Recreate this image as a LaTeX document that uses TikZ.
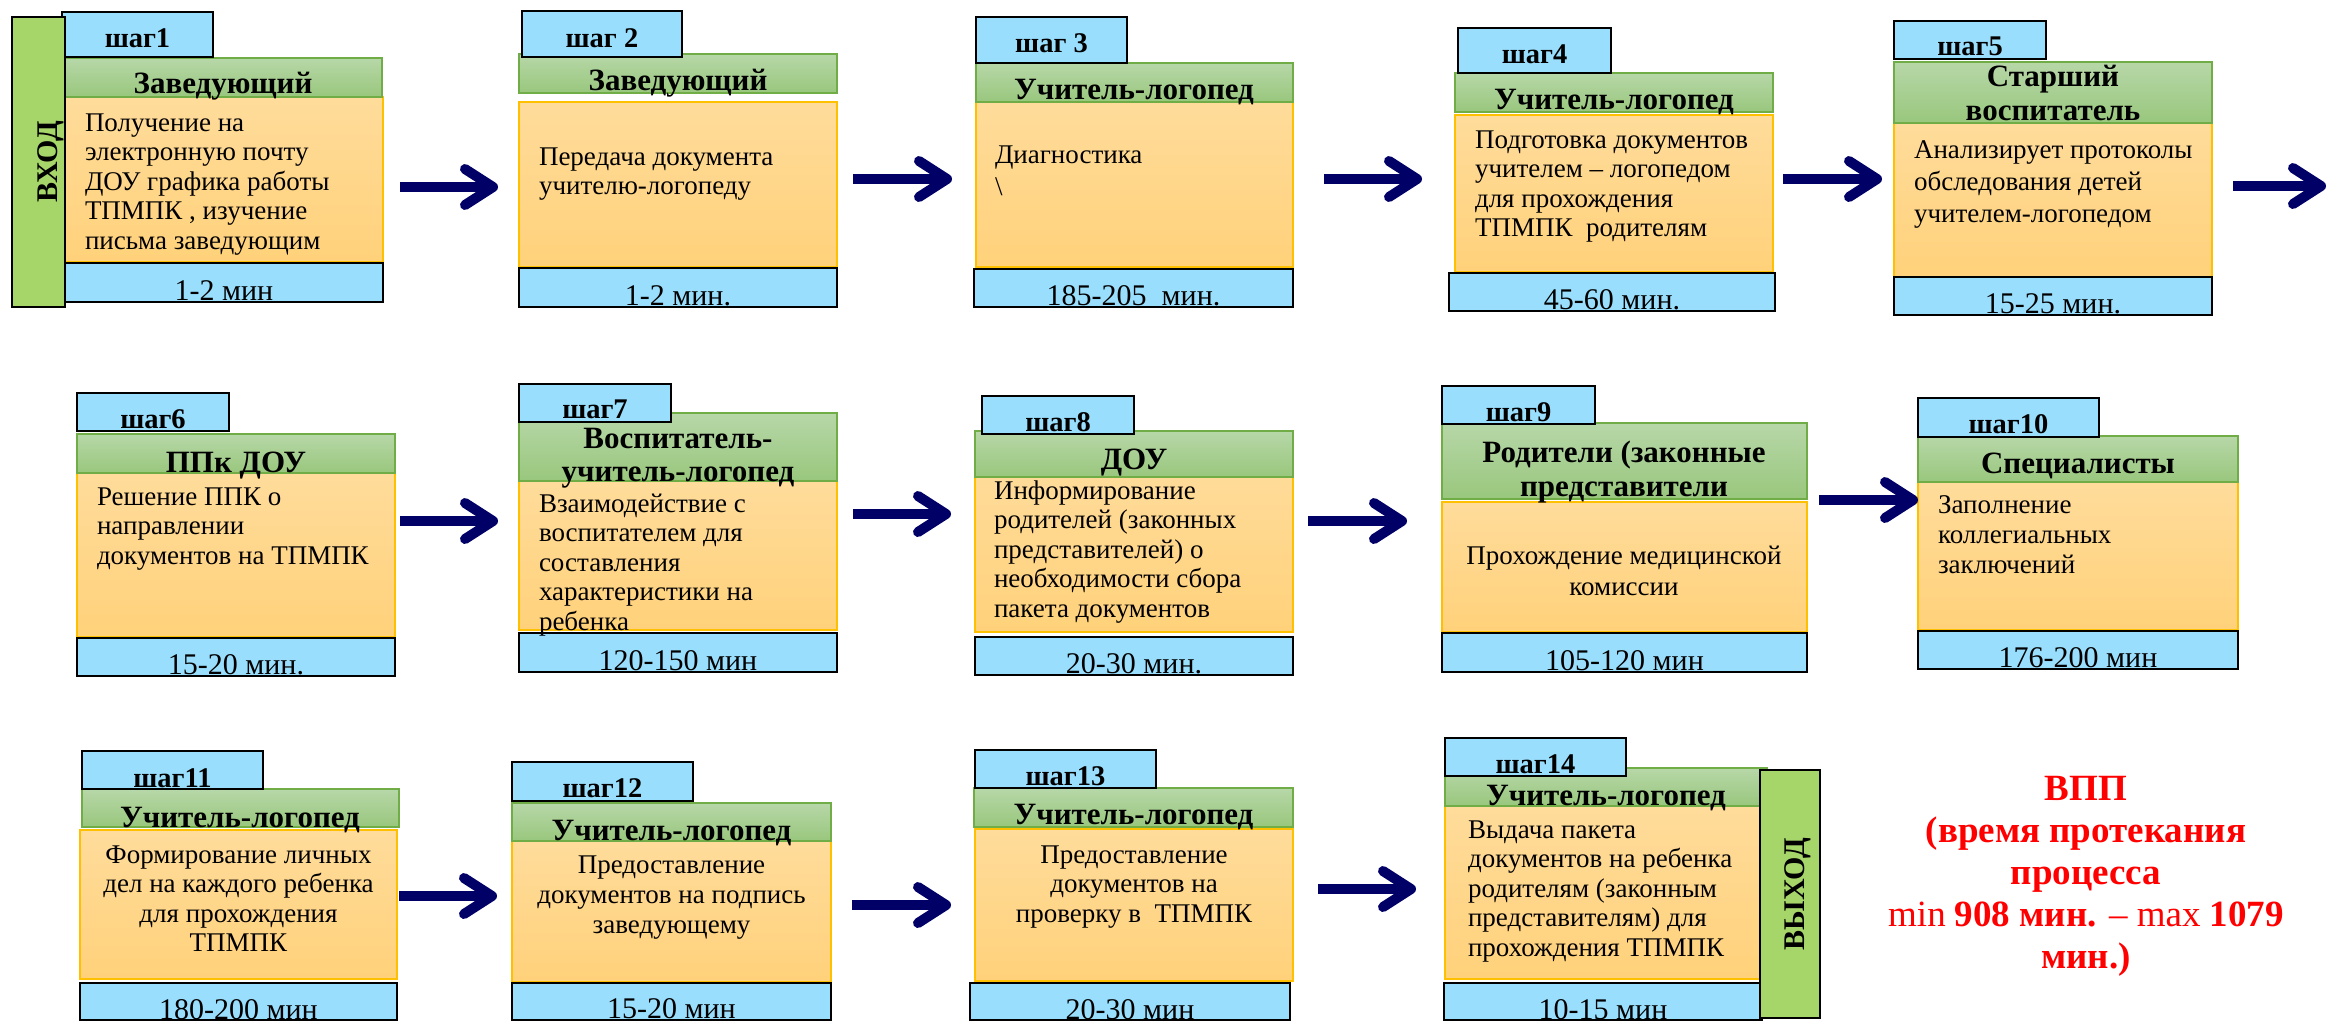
\documentclass[tikz,border=0pt]{standalone}
\usepackage{fontspec}
\setmainfont{Liberation Serif}
\usetikzlibrary{arrows.meta}
\definecolor{stepblue}{RGB}{153,222,253}
\definecolor{bargreen}{RGB}{166,213,106}
\definecolor{headtop}{RGB}{183,215,168}
\definecolor{headbot}{RGB}{153,199,125}
\definecolor{headborder}{RGB}{112,173,71}
\definecolor{bodytop}{RGB}{255,220,155}
\definecolor{bodybot}{RGB}{255,209,122}
\definecolor{bodyborder}{RGB}{255,192,0}
\definecolor{navyarrow}{RGB}{0,0,102}
\definecolor{vppred}{RGB}{255,0,0}
\newcommand\rbox[6]{\node[#2, minimum width={(#5)-(#3)}, minimum height={(#6)-(#4)}] (#1) at ({((#3)+(#5))/2},{((#4)+(#6))/2}) {};}
\newcommand\txtlines[2][l]{\begin{tabular}[t]{@{}#1@{}}#2\end{tabular}}
\tikzset{
  every node/.style={inner sep=0pt, outer sep=0pt},
  bodybox/.style={draw=bodyborder, line width=1.2pt, top color=bodytop, bottom color=bodybot},
  headbox/.style={draw=headborder, line width=1.2pt, top color=headtop, bottom color=headbot},
  bluebox/.style={draw=black, line width=2pt, fill=stepblue},
  barbox/.style={draw=black, line width=2pt, fill=bargreen},
  bodytext/.style={font=\fontsize{27}{29.5}\selectfont, anchor=base west},
  bodyctext/.style={font=\fontsize{27}{29.5}\selectfont, anchor=base},
  headtext/.style={font=\fontsize{31}{34}\selectfont\bfseries, anchor=base},
  labtext/.style={font=\fontsize{28.5}{32}\selectfont\bfseries, anchor=base},
  timetext/.style={font=\fontsize{30}{34}\selectfont, anchor=base},
  bartext/.style={font=\fontsize{30}{34}\selectfont\bfseries, anchor=base, rotate=90},
  vpptext/.style={font=\fontsize{37}{42}\selectfont\bfseries, text=vppred, anchor=base},
  flow/.style={draw=navyarrow, line width=10pt, -{Straight Barb[length=28pt, width=36pt, round]}},
}
\begin{document}
\begin{tikzpicture}[x=1pt, y=-1pt]
\useasboundingbox (0,0) rectangle (2328,1021);
% ---------- row 1 ----------
\rbox{b1}{bodybox}{65}{97}{383}{262}
\rbox{h1}{headbox}{65}{58}{382}{97}
\rbox{l1}{bluebox}{62}{12}{213}{57}
\rbox{t1}{bluebox}{65}{263}{383}{302}
\rbox{vin}{barbox}{12}{17}{65}{307}
\node[bartext] (vint) at (57,162) {ВХОД};
\node[headtext] (h1t) at (223,93) {Заведующий};
\node[labtext] (l1t) at (137.5,47) {шаг1};
\node[timetext] (t1t) at (224,300) {1-2 мин};
\node[bodytext] (b1t) at (85,131) {\txtlines{Получение на\\электронную почту\\ДОУ графика работы\\ТПМПК , изучение\\письма заведующим}};

\rbox{b2}{bodybox}{519}{102}{837}{267}
\rbox{h2}{headbox}{519}{54}{837}{93}
\rbox{l2}{bluebox}{522}{11}{682}{57}
\rbox{t2}{bluebox}{519}{268}{837}{307}
\node[headtext] (h2t) at (678,90) {Заведующий};
\node[labtext] (l2t) at (602,47) {шаг 2};
\node[timetext] (t2t) at (678,305) {1-2 мин.};
\node[bodytext] (b2t) at (539,165) {\txtlines{Передача документа\\учителю-логопеду}};

\rbox{b3}{bodybox}{976}{102}{1293}{267}
\rbox{h3}{headbox}{976}{63}{1293}{102}
\rbox{l3}{bluebox}{976}{17}{1127}{63}
\rbox{t3}{bluebox}{974}{269}{1293}{307}
\node[headtext] (h3t) at (1134,99) {Учитель-логопед};
\node[labtext] (l3t) at (1051.5,52) {шаг 3};
\node[timetext] (t3t) at (1133.5,305) {185-205\ \ мин.};
\node[bodytext] (b3t) at (995,163) {\txtlines{Диагностика\\[3pt]\textbackslash}};

\rbox{b4}{bodybox}{1455}{115}{1773}{272}
\rbox{h4}{headbox}{1455}{73}{1773}{112}
\rbox{l4}{bluebox}{1458}{28}{1611}{73}
\rbox{t4}{bluebox}{1449}{273}{1775}{311}
\node[headtext] (h4t) at (1614,109) {Учитель-логопед};
\node[labtext] (l4t) at (1534.5,63) {шаг4};
\node[timetext] (t4t) at (1612,309) {45-60 мин.};
\node[bodytext] (b4t) at (1475,148) {\txtlines{Подготовка документов\\учителем – логопедом\\для прохождения\\ТПМПК\ \ родителям}};

\rbox{b5}{bodybox}{1894}{123}{2212}{277}
\rbox{h5}{headbox}{1894}{62}{2212}{123}
\rbox{l5}{bluebox}{1894}{21}{2046}{59}
\rbox{t5}{bluebox}{1894}{277}{2212}{315}
\node[headtext] (h5t) at (2053,86) {\txtlines[c]{Старший\\воспитатель}};
\node[labtext] (l5t) at (1970,55) {шаг5};
\node[timetext] (t5t) at (2053,313) {15-25 мин.};
\node[bodytext, font=\fontsize{27}{32}\selectfont] (b5t) at (1914,158) {\txtlines{Анализирует протоколы\\обследования детей\\учителем-логопедом}};

% ---------- row 2 ----------
\rbox{b6}{bodybox}{77}{473}{395}{637}
\rbox{h6}{headbox}{77}{434}{395}{473}
\rbox{l6}{bluebox}{77}{393}{229}{431}
\rbox{t6}{bluebox}{77}{638}{395}{676}
\node[headtext] (h6t) at (236,472) {ППк ДОУ};
\node[labtext] (l6t) at (153,428) {шаг6};
\node[timetext] (t6t) at (236,674) {15-20 мин.};
\node[bodytext] (b6t) at (97,505) {\txtlines{Решение ППК о\\направлении\\документов на ТПМПК}};

\rbox{b7}{bodybox}{519}{481}{837}{630}
\rbox{h7}{headbox}{519}{413}{837}{481}
\rbox{l7}{bluebox}{519}{384}{671}{422}
\rbox{t7}{bluebox}{519}{633}{837}{672}
\node[headtext, font=\fontsize{31}{33}\selectfont\bfseries] (h7t) at (678,448) {\txtlines[c]{Воспитатель-\\учитель-логопед}};
\node[labtext] (l7t) at (595,418) {шаг7};
\node[timetext] (t7t) at (678,670) {120-150 мин};
\node[bodytext] (b7t) at (539,512) {\txtlines{Взаимодействие с\\воспитателем для\\составления\\характеристики на\\ребенка}};

\rbox{b8}{bodybox}{975}{467}{1293}{632}
\rbox{h8}{headbox}{975}{431}{1293}{477}
\rbox{l8}{bluebox}{982}{396}{1134}{434}
\rbox{t8}{bluebox}{975}{637}{1293}{675}
\node[headtext] (h8t) at (1134,469) {ДОУ};
\node[labtext] (l8t) at (1058,431) {шаг8};
\node[timetext] (t8t) at (1134,673) {20-30 мин.};
\node[bodytext] (b8t) at (994,499) {\txtlines{Информирование\\родителей (законных\\представителей) о\\необходимости сбора\\пакета документов}};

\rbox{b9}{bodybox}{1442}{502}{1807}{632}
\rbox{h9}{headbox}{1442}{423}{1807}{499}
\rbox{l9}{bluebox}{1442}{386}{1595}{424}
\rbox{t9}{bluebox}{1442}{633}{1807}{672}
\node[headtext] (h9t) at (1624,462) {\txtlines[c]{Родители (законные\\представители}};
\node[labtext] (l9t) at (1518.5,421) {шаг9};
\node[timetext] (t9t) at (1624.5,670) {105-120 мин};
\node[bodyctext, font=\fontsize{27}{31}\selectfont] (b9t) at (1624,564) {\txtlines[c]{Прохождение медицинской\\комиссии}};

\rbox{b10}{bodybox}{1918}{482}{2238}{630}
\rbox{h10}{headbox}{1918}{436}{2238}{482}
\rbox{l10}{bluebox}{1918}{398}{2099}{437}
\rbox{t10}{bluebox}{1918}{631}{2238}{669}
\node[headtext] (h10t) at (2078,473) {Специалисты};
\node[labtext] (l10t) at (2008.5,433) {шаг10};
\node[timetext] (t10t) at (2078,667) {176-200 мин};
\node[bodytext, font=\fontsize{27}{30}\selectfont] (b10t) at (1938,513) {\txtlines{Заполнение\\коллегиальных\\заключений}};

% ---------- row 3 ----------
\rbox{b11}{bodybox}{80}{830}{397}{979}
\rbox{h11}{headbox}{82}{789}{399}{827}
\rbox{l11}{bluebox}{82}{751}{263}{789}
\rbox{t11}{bluebox}{80}{983}{397}{1020}
\node[headtext] (h11t) at (240,827) {Учитель-логопед};
\node[labtext] (l11t) at (172.5,787) {шаг11};
\node[timetext] (t11t) at (238.5,1019) {180-200 мин};
\node[bodyctext] (b11t) at (238.5,863) {\txtlines[c]{Формирование личных\\дел на каждого ребенка\\для прохождения\\ТПМПК}};

\rbox{b12}{bodybox}{512}{841}{831}{982}
\rbox{h12}{headbox}{512}{803}{831}{841}
\rbox{l12}{bluebox}{512}{762}{693}{801}
\rbox{t12}{bluebox}{512}{983}{831}{1020}
\node[headtext] (h12t) at (671.5,840) {Учитель-логопед};
\node[labtext] (l12t) at (602.5,797) {шаг12};
\node[timetext] (t12t) at (671.5,1018) {15-20 мин};
\node[bodyctext, font=\fontsize{27}{30}\selectfont] (b12t) at (671.5,873) {\txtlines[c]{Предоставление\\документов на подпись\\заведующему}};

\rbox{b13}{bodybox}{975}{829}{1293}{981}
\rbox{h13}{headbox}{974}{788}{1293}{827}
\rbox{l13}{bluebox}{975}{750}{1156}{788}
\rbox{t13}{bluebox}{970}{983}{1290}{1020}
\node[headtext] (h13t) at (1133.5,824) {Учитель-логопед};
\node[labtext] (l13t) at (1065.5,785) {шаг13};
\node[timetext] (t13t) at (1130,1019) {20-30 мин};
\node[bodyctext] (b13t) at (1134,863) {\txtlines[c]{Предоставление\\документов на\\проверку в\ \ ТПМПК}};

\rbox{b14}{bodybox}{1445}{806}{1760}{979}
\rbox{h14}{headbox}{1445}{768}{1767}{806}
\rbox{l14}{bluebox}{1445}{738}{1626}{776}
\rbox{t14}{bluebox}{1444}{983}{1762}{1020}
\rbox{vout}{barbox}{1760}{770}{1820}{1018}
\node[bartext] (voutt) at (1804,894) {ВЫХОД};
\node[headtext] (h14t) at (1606,805) {Учитель-логопед};
\node[labtext] (l14t) at (1535.5,773) {шаг14};
\node[timetext] (t14t) at (1603,1019) {10-15 мин};
\node[bodytext] (b14t) at (1468,838) {\txtlines{Выдача пакета\\документов на ребенка\\родителям (законным\\представителям) для\\прохождения ТПМПК}};

% ---------- summary ----------
\node[vpptext] (vpp) at (2086,800) {\txtlines[c]{ВПП\\(время протекания\\процесса\\{\mdseries min} 908 мин. {\mdseries – max} 1079\\мин.)}};

% ---------- arrows ----------
\coordinate (a1s) at (400,187);  \coordinate (a1e) at (498,187);
\coordinate (a2s) at (853,179);  \coordinate (a2e) at (952,179);
\coordinate (a3s) at (1324,179); \coordinate (a3e) at (1422,179);
\coordinate (a4s) at (1783,179); \coordinate (a4e) at (1882,179);
\coordinate (a5s) at (2233,186); \coordinate (a5e) at (2326,186);
\coordinate (a6s) at (400,521);  \coordinate (a6e) at (498,521);
\coordinate (a7s) at (853,514);  \coordinate (a7e) at (951,514);
\coordinate (a8s) at (1308,521); \coordinate (a8e) at (1407,521);
\coordinate (a9s) at (1819,500); \coordinate (a9e) at (1918,500);
\coordinate (a10s) at (399,896); \coordinate (a10e) at (497,896);
\coordinate (a11s) at (852,905); \coordinate (a11e) at (951,905);
\coordinate (a12s) at (1318,889); \coordinate (a12e) at (1416,889);
\foreach \i in {1,...,12} {\draw[flow] (a\i s) -- (a\i e);}
\end{tikzpicture}
\end{document}
